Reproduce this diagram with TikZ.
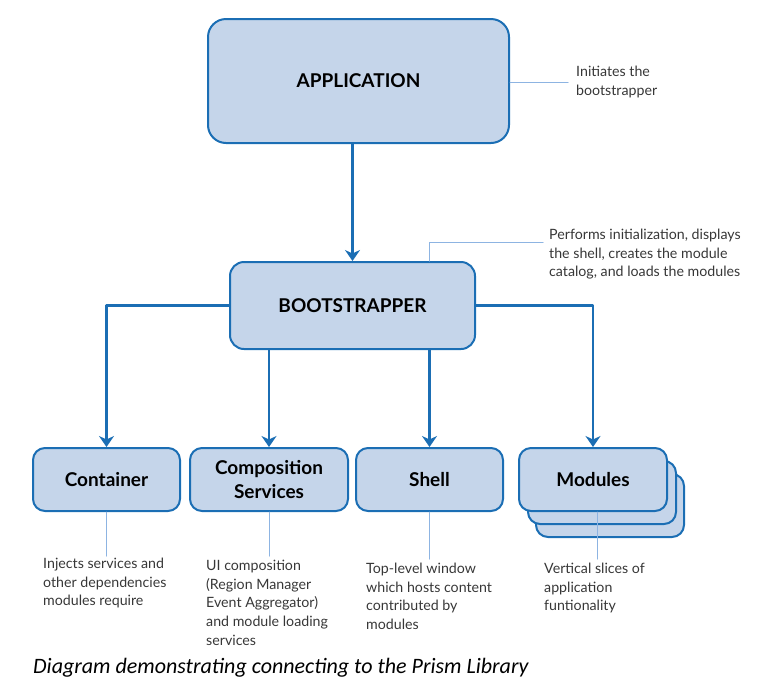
\documentclass[tikz,border=0pt]{standalone}
\usepackage{fontspec}
\setmainfont{Lato}
\newfontfamily\capfont{Carlito}
\usetikzlibrary{arrows.meta,positioning}
\definecolor{boxblue}{RGB}{197,213,234}
\definecolor{lineblue}{RGB}{27,110,180}
\definecolor{leadblue}{RGB}{141,180,226}
\definecolor{notegray}{RGB}{55,55,55}

\begin{document}
\begin{tikzpicture}[x=1pt, y=-1pt, line cap=round, line join=round, >={Stealth[length=11pt,width=15pt,inset=3.5pt]},
	box/.style={draw=lineblue, fill=boxblue, line width=2pt, rounded corners=12pt, align=center, font=\fontsize{19}{24}\selectfont\bfseries},
	flow/.style={->, lineblue, line width=2.6pt},
	lead/.style={leadblue, line width=1pt},
	note/.style={anchor=north west, inner sep=0pt, align=left, text=notegray, font=\fontsize{14.2}{18.6}\selectfont}]
		\useasboundingbox (0,0) rectangle (778,697);
		
		% main boxes
		\node[box, rounded corners=18pt, minimum width=301pt, minimum height=124pt] (app) at (358.5,81) {APPLICATION};
		\node[box, rounded corners=14pt, minimum width=245pt, minimum height=87pt] (boot) at (352.5,305.5) {BOOTSTRAPPER};
		
		% services row
		\node[box, minimum width=147pt, minimum height=63pt] (cont) at (106.5,479.5) {Container};
		\node[box, minimum width=158pt, minimum height=63pt] (comp) at (269,479.5) {Composition\\Services};
		\node[box, minimum width=147pt, minimum height=63pt] (shell) at (429.5,479.5) {Shell};
		\node[box, minimum width=148pt, minimum height=63pt] (mod3) at (610,505.5) {};
		\node[box, minimum width=148pt, minimum height=63pt] (mod2) at (602,492.5) {};
		\node[box, minimum width=148pt, minimum height=63pt] (mod) at (593,479.5) {Modules};
		
		% arrows
		\draw[flow] (app.south -| boot.north) -- (boot.north);
		\draw[flow] (boot.west) -| (cont.north);
		\draw[flow] (boot.south -| comp.north) -- (comp.north);
		\draw[flow] (boot.south -| shell.north) -- (shell.north);
		\draw[flow] (boot.east) -| (mod.north);
		
		% notes
		\coordinate (a1) at (568,82);
		\draw[lead] (app.east |- a1) -- (a1);
		\node[note, anchor=west] (appnote) at (576,82) {Initiates the\\bootstrapper};
		
		\coordinate (b1) at (543,242);
		\draw[lead] (boot.north -| shell.north) |- (b1);
		\node[note] (bootnote) at (549,229) {Performs initialization, displays\\the shell, creates the module\\catalog, and loads the modules};
		
		\draw[lead] (cont.south) -- ++(0,44);
		\node[note] (contnote) at (43,558) {Injects services and\\other dependencies\\modules require};
		\draw[lead] (comp.south) -- ++(0,44);
		\node[note] (compnote) at (206,560) {UI composition\\(Region Manager\\Event Aggregator)\\and module loading\\services};
		\draw[lead] (shell.south) -- ++(0,47);
		\node[note] (shellnote) at (366,563) {Top-level window\\which hosts content\\contributed by\\modules};
		\draw[lead] (mod.south) ++(4,0) -- ++(0,47);
		\node[note] (modnote) at (544,563) {Vertical slices of\\application\\funtionality};
		
		% caption
		\node[anchor=west, inner sep=0pt, font=\capfont\itshape\fontsize{22}{26}\selectfont] (caption) at (33,668) {Diagram demonstrating connecting to the Prism Library};
\end{tikzpicture}
\end{document}
